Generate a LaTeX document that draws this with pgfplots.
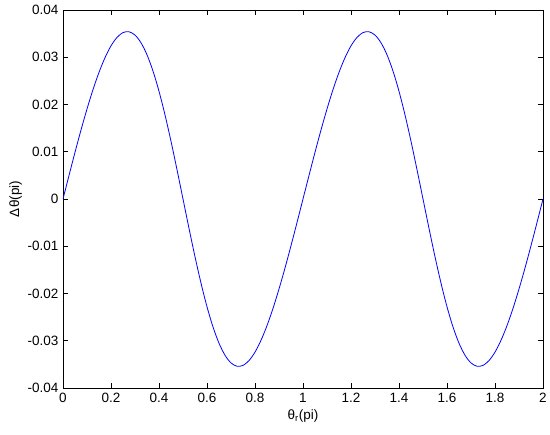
\documentclass[border=0pt]{standalone}
\usepackage{pgfplots}
\pgfplotsset{compat=1.18}
\usepackage{fontspec}
\setmainfont{Liberation Sans}
\pgfplotstableread{
x y
0 0
0.025 0.00498
0.05 0.00988
0.075 0.01460
0.1 0.01905
0.125 0.02315
0.15 0.02680
0.175 0.02991
0.2 0.03241
0.225 0.03420
0.25 0.03522
0.275 0.03540
0.3 0.03469
0.325 0.03307
0.35 0.03052
0.375 0.02708
0.4 0.02280
0.425 0.01780
0.45 0.01222
0.475 0.00621
0.5 0
0.525 -0.00621
0.55 -0.01222
0.575 -0.01780
0.6 -0.02280
0.625 -0.02708
0.65 -0.03052
0.675 -0.03307
0.7 -0.03469
0.725 -0.03540
0.75 -0.03522
0.775 -0.03420
0.8 -0.03241
0.825 -0.02991
0.85 -0.02680
0.875 -0.02315
0.9 -0.01905
0.925 -0.01460
0.95 -0.00988
0.975 -0.00498
1 0
1.025 0.00498
1.05 0.00988
1.075 0.01460
1.1 0.01905
1.125 0.02315
1.15 0.02680
1.175 0.02991
1.2 0.03241
1.225 0.03420
1.25 0.03522
1.275 0.03540
1.3 0.03469
1.325 0.03307
1.35 0.03052
1.375 0.02708
1.4 0.02280
1.425 0.01780
1.45 0.01222
1.475 0.00621
1.5 0
1.525 -0.00621
1.55 -0.01222
1.575 -0.01780
1.6 -0.02280
1.625 -0.02708
1.65 -0.03052
1.675 -0.03307
1.7 -0.03469
1.725 -0.03540
1.75 -0.03522
1.775 -0.03420
1.8 -0.03241
1.825 -0.02991
1.85 -0.02680
1.875 -0.02315
1.9 -0.01905
1.925 -0.01460
1.95 -0.00988
1.975 -0.00498
2 0
}\datatable
\begin{document}
\begin{tikzpicture}
\useasboundingbox (0,0) rectangle (550pt,435pt);
\begin{axis}[
  at={(63pt,47pt)}, anchor=south west,
  scale only axis, width=480pt, height=378pt,
  xmin=0, xmax=2, ymin=-0.04, ymax=0.04,
  scaled x ticks=false, scaled y ticks=false,
  xtick={0,0.2,...,2.01},
  ytick={-0.04,-0.03,...,0.041},
  xticklabels={0,0.2,0.4,0.6,0.8,1,1.2,1.4,1.6,1.8,2},
  yticklabels={-0.04,-0.03,-0.02,-0.01,0,0.01,0.02,0.03,0.04},
  tick align=inside, major tick length=5pt,
  tick style={black, line width=0.6pt},
  axis line style={black, line width=0.7pt},
  ticklabel style={font=\fontsize{13.5}{15}\selectfont},
  xticklabel style={yshift=-2pt},
  yticklabel style={xshift=-1pt},
  /pgf/number format/assume math mode=true,
  xlabel={θ\textsubscript{r}(pi)},
  ylabel={Δθ(pi)},
  label style={font=\fontsize{13.5}{15}\selectfont},
  xlabel style={yshift=0pt},
  ylabel style={yshift=-1pt},
]
\addplot[blue, line width=0.8pt, smooth] table {\datatable};
\end{axis}
\end{tikzpicture}
\end{document}
